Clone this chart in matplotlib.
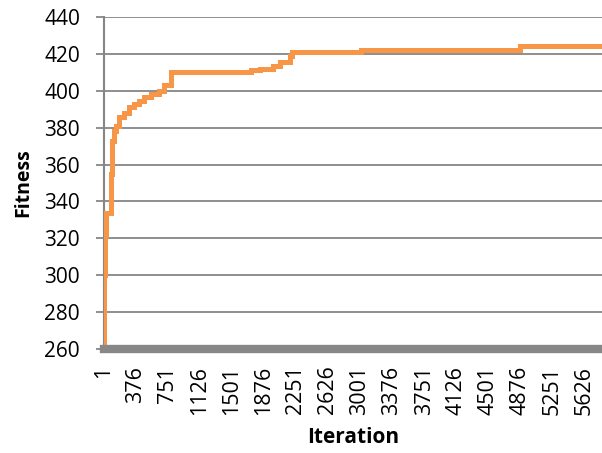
import matplotlib
matplotlib.use("Agg")
import matplotlib.pyplot as plt
import numpy as np

# change points of the best-so-far fitness (iteration, fitness)
iterations = [1, 10, 20, 27, 85, 95, 104, 125, 144, 180, 245, 300, 358, 417, 475, 558, 651, 710, 792,
              1730, 1830, 1980, 2060, 2180, 2200, 3015, 4870, 5832]
fitness = [260, 300, 322, 334, 355, 364, 373, 378, 381, 385.6, 388, 391, 393, 394.6, 396.5, 398, 400, 403, 410,
           411, 412, 413.6, 415.8, 419, 421, 422.3, 424, 424]

x_ticks = list(range(1, 5832, 375))
y_ticks = list(range(260, 441, 20))

plt.rcParams['font.family'] = ['Open Sans', 'DejaVu Sans']

fig = plt.figure(figsize=(6.02, 4.53), dpi=100)
ax = fig.add_axes([0.1720, 0.2296, 0.8280, 0.7329])

ax.step(iterations, fitness, where='post', color='#F79646', linewidth=3.6, solid_joinstyle='miter', zorder=3)

ax.set_xlim(1, 5832)
ax.set_ylim(260, 440)
ax.set_yticks(y_ticks)
ax.set_xticks(x_ticks)
ax.set_xticklabels([str(t) for t in x_ticks], rotation=90)
ax.tick_params(axis='y', length=6, width=1.3, color='#868686', labelsize=15, pad=11)
ax.tick_params(axis='x', length=0, labelsize=15.5, pad=12)

ax.grid(axis='y', color='#868686', linewidth=1.3)
ax.set_axisbelow(True)

for s in ['top', 'right']:
    ax.spines[s].set_visible(False)
ax.spines['left'].set_color('#868686')
ax.spines['left'].set_linewidth(1.5)
ax.spines['bottom'].set_color('#878787')
ax.spines['bottom'].set_linewidth(6)
ax.spines['bottom'].set_zorder(4)

ax.set_xlabel('Iteration', fontsize=15, fontweight='bold', labelpad=9)
ax.set_ylabel('Fitness', fontsize=14, fontweight='bold', labelpad=8)

fig.savefig('out.png', dpi=100)
